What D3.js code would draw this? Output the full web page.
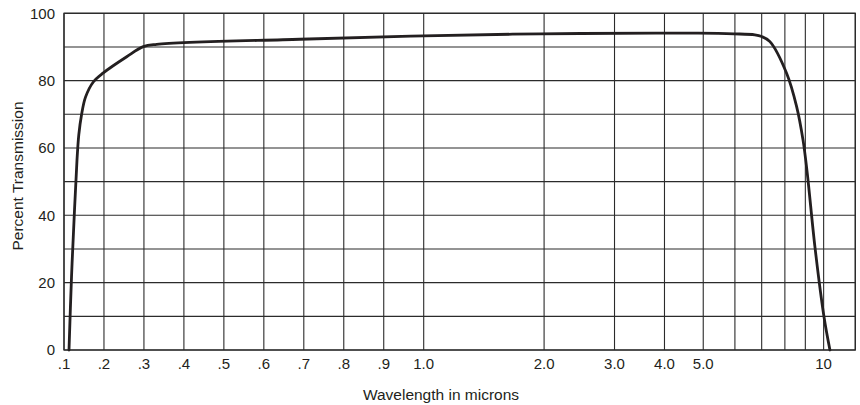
<!DOCTYPE html>
<html>
<head>
<meta charset="utf-8">
<script src="https://cdn.jsdelivr.net/npm/d3@7"></script>
<style>
  html, body { margin: 0; padding: 0; background: #fff; }
  svg { display: block; }
  text { font-family: "Liberation Sans", Arial, Helvetica, sans-serif; fill: #231f20; }
</style>
</head>
<body>
<svg id="chart" width="860" height="405"></svg>
<script>
// ---- data ----
const wavelength = [0.1125, 0.1188, 0.1263, 0.1325, 0.137, 0.1438, 0.1538, 0.1733, 0.1983, 0.2569, 0.2984, 0.332, 0.690,
                    1.0, 1.96, 3.81, 4.85, 5.97, 6.73, 7.0, 7.34, 8.08, 8.56, 8.88, 9.10, 9.51, 10.02, 10.37];
const transmission = [0, 21.7, 41.6, 56.4, 63.9, 69.8, 75.1, 79.6, 82.3, 87.1, 90.1, 90.8, 92.3,
                      93.3, 93.9, 94.1, 94.1, 93.9, 93.6, 93.1, 91.6, 82.2, 72.3, 62.4, 52.5, 30.7, 9.9, 0];
const xGridValues = [0.1, 0.2, 0.3, 0.4, 0.5, 0.6, 0.7, 0.8, 0.9, 1, 2, 3, 4, 5, 6, 7, 8, 9, 10, 12];
const xTickValues = [0.1, 0.2, 0.3, 0.4, 0.5, 0.6, 0.7, 0.8, 0.9, 1, 2, 3, 4, 5, 10];
const xTickLabels = [".1", ".2", ".3", ".4", ".5", ".6", ".7", ".8", ".9", "1.0", "2.0", "3.0", "4.0", "5.0", "10"];
const yGridValues = [0, 10, 20, 30, 40, 50, 60, 70, 80, 90, 100];
const yTickValues = [0, 20, 40, 60, 80, 100];
const xTitle = "Wavelength in microns";
const yTitle = "Percent Transmission";

// ---- layout ----
const mLeft = 64, mRight = 855.3, mTop = 13.3, mBottom = 350;
const xBreak = 423.7;

const svg = d3.select("#chart");

// composite x scale: linear from .1 to 1.0, logarithmic from 1 to 12
const xLin = d3.scaleLinear().domain([0.1, 1]).range([mLeft, xBreak]);
const xLog = d3.scaleLog().domain([1, 12]).range([xBreak, mRight]);
const x = v => (v <= 1 ? xLin(v) : xLog(v));
const y = d3.scaleLinear().domain([0, 100]).range([mBottom, mTop]);

const ink = "#231f20";

// grid
const g = svg.append("g");
g.selectAll("line.vx").data(xGridValues).join("line")
  .attr("x1", d => x(d)).attr("x2", d => x(d))
  .attr("y1", mTop).attr("y2", mBottom)
  .attr("stroke", "#2b2b2b").attr("stroke-width", 1.1);
g.selectAll("line.hy").data(yGridValues).join("line")
  .attr("x1", mLeft).attr("x2", mRight)
  .attr("y1", d => y(d)).attr("y2", d => y(d))
  .attr("stroke", "#2b2b2b").attr("stroke-width", 1.1);

// frame
g.append("rect").attr("x", mLeft).attr("y", mTop)
  .attr("width", mRight - mLeft).attr("height", mBottom - mTop)
  .attr("fill", "none").attr("stroke", "#2b2b2b").attr("stroke-width", 1.3);

// y tick labels
svg.append("g").selectAll("text").data(yTickValues).join("text")
  .attr("x", 55).attr("y", d => y(d)).attr("dy", "0.35em")
  .attr("text-anchor", "end").attr("font-size", 15)
  .text(d => d);

// x tick labels
svg.append("g").selectAll("text").data(xTickValues).join("text")
  .attr("x", d => x(d)).attr("y", 368.5)
  .attr("text-anchor", "middle").attr("font-size", 15)
  .text((d, i) => xTickLabels[i]);

// titles
svg.append("text").attr("x", 441).attr("y", 400)
  .attr("text-anchor", "middle").attr("font-size", 15.5).text(xTitle);
svg.append("text").attr("transform", "translate(23.3,176) rotate(-90)")
  .attr("text-anchor", "middle").attr("font-size", 15.5).text(yTitle);

// curve
const pts = wavelength.map((w, i) => [x(w), y(transmission[i])]);
svg.append("path").datum(pts)
  .attr("d", d3.line().curve(d3.curveCatmullRom.alpha(0.5)))
  .attr("fill", "none").attr("stroke", ink).attr("stroke-width", 2.8)
  .attr("stroke-linejoin", "round").attr("stroke-linecap", "round");
</script>
</body>
</html>
